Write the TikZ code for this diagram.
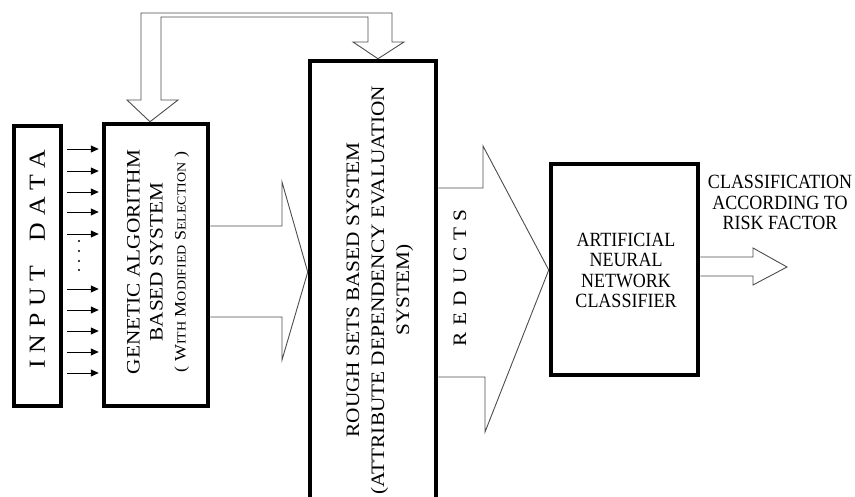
\documentclass[tikz,border=0pt]{standalone}
\usepackage{fontspec}
\setmainfont{Liberation Serif}
\usetikzlibrary{arrows.meta,calc}
\newcommand{\hstr}[1]{\scalebox{1}[1.12]{#1}}
\newcommand{\vstr}[1]{\scalebox{1.12}[1]{#1}}
\newcommand{\fsc}[2]{#1{\fontsize{12.5}{14}\selectfont #2}}
\begin{document}
\begin{tikzpicture}[x=1pt,y=-1pt,
  thickbox/.style={draw,line width=4.5pt,inner sep=0pt},
  hollow/.style={draw=black!70,line width=0.9pt,line join=miter},
  smallarr/.style={-{Triangle[length=8pt,width=7pt]},line width=0.9pt,shorten >=3pt},
  txt/.style={inner sep=0pt}]
\useasboundingbox (0,0) rectangle (855,497);
\clip (0,0) rectangle (855,497);
% boxes
\node[thickbox,minimum width=47pt,minimum height=280pt] (inp) at (37.5,266) {};
\node[thickbox,minimum width=104pt,minimum height=282pt] (ga) at (156,265) {};
\node[thickbox,minimum width=126pt,minimum height=469pt] (rs) at (373,295.5) {};
\node[thickbox,minimum width=147pt,minimum height=211pt] (ann) at (624.5,269.5) {};
% texts
\node[txt,rotate=90,font=\fontsize{23}{26}\selectfont] (inptxt) at (37.5,259)
  {\vstr{I\hspace{6pt}N\hspace{6pt}P\hspace{6pt}U\hspace{6pt}T\hspace{22pt}D\hspace{6pt}A\hspace{6pt}T\hspace{6pt}A}};
\node[txt,rotate=90] (gatxt) at (158,262) {\vstr{\fontsize{19}{23}\selectfont\begin{tabular}{@{}c@{}}GENETIC ALGORITHM\\BASED SYSTEM\\{\fontsize{16}{23}\selectfont( \fsc{W}{ITH} \fsc{M}{ODIFIED} \fsc{S}{ELECTION} )}\end{tabular}}};
\node[txt,rotate=90] (rstxt) at (379,290) {\vstr{\fontsize{19}{25}\selectfont\begin{tabular}{@{}c@{}}ROUGH SETS BASED SYSTEM\\(ATTRIBUTE DEPENDENCY EVALUATION\\SYSTEM)\end{tabular}}};
\node[txt,rotate=90,font=\fontsize{19}{22}\selectfont] (redtxt) at (460,278)
  {\vstr{R\hspace{6pt}E\hspace{6pt}D\hspace{6pt}U\hspace{6pt}C\hspace{6pt}T\hspace{6pt}S}};
\node[txt] (anntxt) at (626,273) {\hstr{\fontsize{18}{18.3}\selectfont\begin{tabular}{@{}c@{}}ARTIFICIAL\\NEURAL\\NETWORK\\CLASSIFIER\end{tabular}}};
\node[txt] (clstxt) at (780,205) {\hstr{\fontsize{18}{17.9}\selectfont\begin{tabular}{@{}c@{}}CLASSIFICATION\\ACCORDING TO\\RISK FACTOR\end{tabular}}};
% small input arrows
\foreach \yy [count=\i] in {149,171,192,212,234,289,310,331,352,373}{
  \coordinate (s\i) at (67,\yy);
  \draw[smallarr] (s\i) -- (s\i -| ga.west);
}
\foreach \yy in {241,251,261,270} \fill (79,\yy) circle (1.2pt);
% block arrows
\draw[hollow] (ga.east |- 0,226) -- (282,226) -- (282,182) -- (rs.west |- 0,272)
  -- (282,360) -- (282,317) -- (ga.east |- 0,317);
\draw[hollow] (rs.east |- 0,188) -- (483,188) -- (483,146) -- (ann.west |- 0,270)
  -- (485,432) -- (485,377) -- (rs.east |- 0,377);
\coordinate (outtip) at (787,267);
\draw[hollow] (ann.east |- 0,257) -- (753,257) -- (753,248) -- (outtip)
  -- (753,285) -- (753,276) -- (ann.east |- 0,276);
% feedback arrow
\draw[hollow] (141,100) -- (141,13) -- (392,13) -- (392,42) -- (404,42)
  -- (378,0 |- rs.north) -- (353,42) -- (368,42) -- (368,17) -- (161,17)
  -- (161,100) -- (178,100) -- (150,0 |- ga.north) -- (127,100) -- cycle;
\end{tikzpicture}
\end{document}
